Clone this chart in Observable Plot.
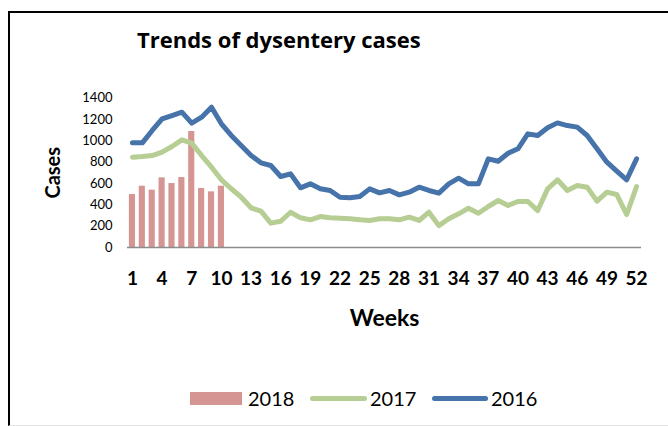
<!DOCTYPE html>
<html>
<head>
<meta charset="utf-8">
<script src="https://cdn.jsdelivr.net/npm/d3@7"></script>
<script src="https://cdn.jsdelivr.net/npm/@observablehq/plot@0.6"></script>
<style>
  html, body { margin: 0; padding: 0; background: #fff; }
  #wrap { position: relative; width: 668px; height: 426px; overflow: hidden; font-family: Lato, "Open Sans", sans-serif; }
  #frame { position: absolute; left: 8px; top: 11px; width: 670px; height: 412px; border-top: 2px solid #000; border-left: 2px solid #000; border-bottom: 1px solid #e4e4e4; }
  #title { position: absolute; left: 137px; top: 28px; font: bold 22px/22px "Open Sans", sans-serif; color: #000; white-space: nowrap; }
  #chart { position: absolute; left: 0; top: 0; }
  .lg { position: absolute; font: 20px/20px Lato, sans-serif; color: #000; }
  .sw { position: absolute; }
</style>
</head>
<body>
<div id="wrap">
  <div id="frame"></div>
  <div id="chart"></div>
  <div id="title">Trends of dysentery cases</div>
  <div id="legend"></div>
</div>
<script>
// ---- data ----
const weeks = d3.range(1, 53);
const cases2018 = [496, 574, 537, 652, 599, 655, 1086, 552, 521, 574];
const cases2017 = [846, 852, 861, 893, 946, 1008, 977, 861, 752, 634,
                   550, 471, 372, 340, 228, 246, 330, 278, 259, 290,
                   278, 275, 269, 259, 253, 269, 269, 259, 284, 253,
                   331, 205, 269, 315, 368, 321, 384, 440, 393, 431,
                   431, 346, 549, 634, 534, 581, 565, 434, 518, 496,
                   309, 571];
const cases2016 = [980, 980, 1096, 1205, 1236, 1267, 1164, 1220, 1314, 1158,
                   1049, 955, 861, 793, 768, 665, 690, 559, 596, 550,
                   534, 471, 465, 478, 549, 512, 534, 493, 518, 565,
                   534, 509, 596, 649, 596, 596, 830, 808, 883, 924,
                   1064, 1049, 1121, 1167, 1142, 1127, 1049, 924, 799, 715,
                   634, 830];
const xTicks = d3.range(1, 53, 3);
const yTicks = d3.range(0, 1401, 200);
const seriesNames = ["2018", "2017", "2016"];
const seriesColors = ["#D59593", "#B6CD93", "#4673AA"];

const bars = cases2018.map((v, i) => ({week: weeks[i], value: v}));
const line17 = cases2017.map((v, i) => ({week: weeks[i], value: v}));
const line16 = cases2016.map((v, i) => ({week: weeks[i], value: v}));

const plot = Plot.plot({
  width: 668,
  height: 340,
  marginTop: 97.5,
  marginBottom: 93,
  marginLeft: 127,
  marginRight: 27,
  style: {fontFamily: "Lato, sans-serif", background: "transparent", overflow: "visible"},
  x: {domain: [0.5, 52.5]},
  y: {domain: [0, 1400]},
  marks: [
    Plot.rectY(bars, {x1: d => d.week - 0.31, x2: d => d.week + 0.31, y1: 0, y2: "value", fill: seriesColors[0]}),
    Plot.line(line17, {x: "week", y: "value", stroke: seriesColors[1], strokeWidth: 5, strokeLinejoin: "round", strokeLinecap: "round"}),
    Plot.line(line16, {x: "week", y: "value", stroke: seriesColors[2], strokeWidth: 5, strokeLinejoin: "round", strokeLinecap: "round"}),
    Plot.ruleY([0], {stroke: "#8c8c8c", strokeWidth: 1.5}),
    Plot.axisX({ticks: xTicks, tickSize: 0, tickPadding: 24, fontSize: 19, fontWeight: "bold", label: null, tickFormat: d => String(d), fill: "#000"}),
    Plot.axisY({ticks: yTicks, tickSize: 0, tickPadding: 15, fontSize: 13, label: null, tickFormat: d => String(d), fill: "#000"}),
    Plot.text(["Cases"], {frameAnchor: "left", textAnchor: "middle", lineAnchor: "middle", dx: -74, rotate: -90, fontSize: 20, fontWeight: "bold", fill: "#000", text: d => d}),
    Plot.text(["Weeks"], {frameAnchor: "bottom", textAnchor: "middle", lineAnchor: "middle", dy: 71, fontSize: 23, fontWeight: "bold", fill: "#000", text: d => d})
  ]
});
document.getElementById("chart").appendChild(plot);

// ---- legend ----
const legend = document.getElementById("legend");
const items = [
  {kind: "bar", x0: 190, x1: 242, tx: 248},
  {kind: "line", x0: 310, x1: 367, tx: 370},
  {kind: "line", x0: 432, x1: 488, tx: 491}
];
items.forEach((it, i) => {
  const sw = document.createElement("div");
  sw.className = "sw";
  if (it.kind === "bar") {
    Object.assign(sw.style, {left: it.x0 + "px", top: "392px", width: (it.x1 - it.x0) + "px", height: "13px", background: seriesColors[i]});
  } else {
    Object.assign(sw.style, {left: it.x0 + "px", top: "395.5px", width: (it.x1 - it.x0) + "px", height: "5px", background: seriesColors[i], borderRadius: "3px"});
  }
  legend.appendChild(sw);
  const t = document.createElement("div");
  t.className = "lg";
  t.textContent = seriesNames[i];
  Object.assign(t.style, {left: it.tx + "px", top: "388px"});
  legend.appendChild(t);
});
</script>
</body>
</html>
